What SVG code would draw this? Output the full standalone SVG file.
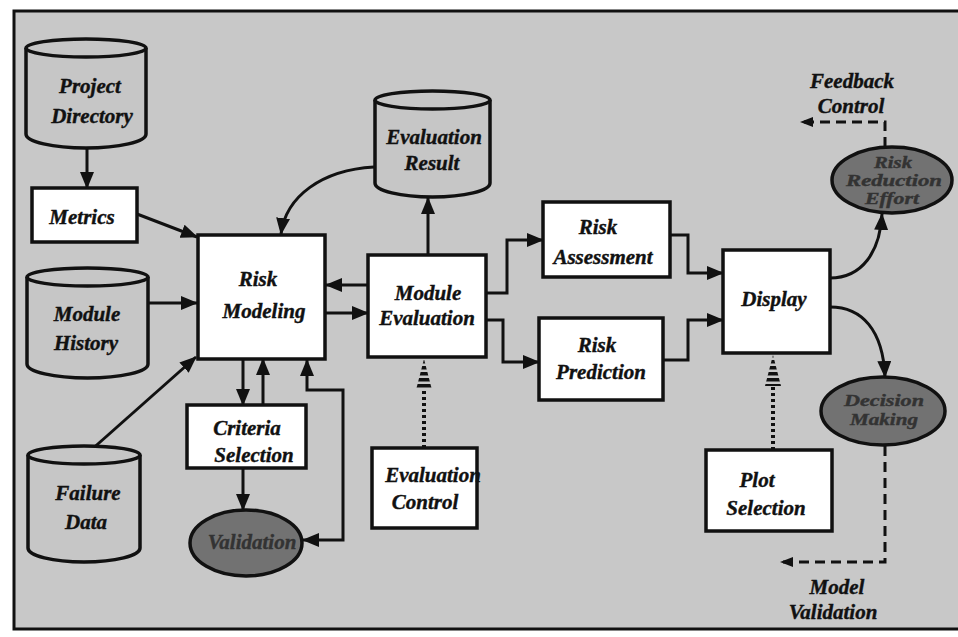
<svg xmlns="http://www.w3.org/2000/svg" width="958" height="637" viewBox="0 0 958 637">
  <style>
    .lbl { font-family: "Liberation Serif", "Times New Roman", serif; font-weight: bold; font-style: italic; font-size: 21px; fill: #111; stroke: #111; stroke-width: 0.4; text-anchor: middle; }
    .dim { fill: #333; stroke: #333; }
    .sm { font-size: 16px; }
    .box { fill: #ffffff; stroke: #111; stroke-width: 3.5; }
    .cyl { fill: #c6c6c6; stroke: #111; stroke-width: 3.5; }
    .oval { fill: #727272; stroke: #111; stroke-width: 3.5; }
    .wire { fill: none; stroke: #111; stroke-width: 3; }
    .dash { fill: none; stroke: #111; stroke-width: 3; stroke-dasharray: 10 6; }
    .dots { fill: none; stroke: #111; stroke-width: 4; stroke-dasharray: 3 3; }
  </style>
  <defs>
    <marker id="arrow" markerUnits="userSpaceOnUse" markerWidth="18" markerHeight="14" refX="16" refY="7" orient="auto-start-reverse">
      <path d="M0,0 L17,7 L0,14 Z" fill="#111"/>
    </marker>
    <marker id="arrowSmall" markerUnits="userSpaceOnUse" markerWidth="14" markerHeight="12" refX="13" refY="6" orient="auto">
      <path d="M0,1 L13,6 L0,11 Z" fill="#111"/>
    </marker>
    <pattern id="stripes" patternUnits="userSpaceOnUse" width="6" height="6">
      <rect x="0" y="0" width="6" height="3.5" fill="#111"/>
    </pattern>
  </defs>

  <!-- page background and frame -->
  <rect x="0" y="0" width="958" height="637" fill="#ffffff"/>
  <rect x="14" y="11" width="952" height="618" fill="#c8c8c8" stroke="#111" stroke-width="3"/>

  <!-- connectors -->
  <g id="connectors">
    <line class="wire" x1="87" y1="148" x2="87" y2="188" marker-end="url(#arrow)"/>
    <line class="wire" x1="137" y1="214" x2="197" y2="237" marker-end="url(#arrow)"/>
    <line class="wire" x1="148" y1="303" x2="197" y2="303" marker-end="url(#arrow)"/>
    <line class="wire" x1="90" y1="451" x2="196" y2="357" marker-end="url(#arrow)"/>
    <path class="wire" d="M374,167 C322,170 286,196 281,234" marker-end="url(#arrow)"/>
    <line class="wire" x1="428" y1="255" x2="428" y2="198" marker-end="url(#arrow)"/>
    <line class="wire" x1="368" y1="285" x2="326" y2="285" marker-end="url(#arrow)"/>
    <line class="wire" x1="326" y1="313" x2="368" y2="313" marker-end="url(#arrow)"/>
    <line class="wire" x1="243" y1="359" x2="243" y2="405" marker-end="url(#arrow)"/>
    <line class="wire" x1="263" y1="405" x2="263" y2="359" marker-end="url(#arrow)"/>
    <line class="wire" x1="243" y1="468" x2="243" y2="510" marker-end="url(#arrow)"/>
    <path class="wire" d="M307,360 L307,390 L343,390 L343,540 L303,540" marker-start="url(#arrow)" marker-end="url(#arrow)"/>
    <path class="wire" d="M486,293 L507,293 L507,240 L543,240" marker-end="url(#arrow)"/>
    <path class="wire" d="M486,320 L503,320 L503,362 L539,362" marker-end="url(#arrow)"/>
    <path class="wire" d="M670,235 L688,235 L688,273 L723,273" marker-end="url(#arrow)"/>
    <path class="wire" d="M663,360 L688,360 L688,320 L723,320" marker-end="url(#arrow)"/>
    <path class="wire" d="M830,278 C862,278 880,252 882,214" marker-end="url(#arrow)"/>
    <path class="wire" d="M830,307 C862,307 883,330 885,377" marker-end="url(#arrow)"/>
    <path class="dash" d="M885,147 L885,122 L800,122" marker-end="url(#arrowSmall)"/>
    <path class="dash" d="M885,446 L885,562 L780,562" marker-end="url(#arrowSmall)"/>
    <!-- dotted control links with striped heads -->
    <line class="dots" x1="424" y1="448" x2="424" y2="390"/>
    <polygon points="424,359 416,390 432,390" fill="url(#stripes)"/>
    <line class="dots" x1="773" y1="450" x2="773" y2="386"/>
    <polygon points="773,355 765,386 781,386" fill="url(#stripes)"/>
  </g>

  <!-- data stores -->
  <g id="project-directory">
    <path class="cyl" d="M26,48 L26,134 A60,14 0 0 0 146,134 L146,48"/>
    <ellipse class="cyl" cx="86" cy="48" rx="60" ry="9"/>
    <text class="lbl" x="90" y="93">Project</text>
    <text class="lbl" x="92" y="123">Directory</text>
  </g>
  <g id="module-history">
    <path class="cyl" d="M27,277 L27,364 A60.5,14 0 0 0 148,364 L148,277"/>
    <ellipse class="cyl" cx="87.5" cy="277" rx="60.5" ry="9"/>
    <text class="lbl" x="87" y="321">Module</text>
    <text class="lbl" x="86" y="350">History</text>
  </g>
  <g id="failure-data">
    <path class="cyl" d="M28,455 L28,548 A56,14 0 0 0 140,548 L140,455"/>
    <ellipse class="cyl" cx="84" cy="455" rx="56" ry="9"/>
    <text class="lbl" x="88" y="500">Failure</text>
    <text class="lbl" x="86" y="529">Data</text>
  </g>
  <g id="evaluation-result">
    <path class="cyl" d="M375,100 L375,183 A57.5,14 0 0 0 490,183 L490,100"/>
    <ellipse class="cyl" cx="432.5" cy="100" rx="57.5" ry="9"/>
    <text class="lbl" x="434" y="144">Evaluation</text>
    <text class="lbl" x="432" y="170">Result</text>
  </g>

  <!-- process boxes -->
  <g id="metrics">
    <rect class="box" x="32" y="188" width="105" height="54"/>
    <text class="lbl" x="82" y="224">Metrics</text>
  </g>
  <g id="risk-modeling">
    <rect class="box" x="198" y="235" width="127" height="124"/>
    <text class="lbl" x="258" y="286">Risk</text>
    <text class="lbl" x="264" y="318">Modeling</text>
  </g>
  <g id="module-evaluation">
    <rect class="box" x="368" y="255" width="118" height="102"/>
    <text class="lbl" x="428" y="300">Module</text>
    <text class="lbl" x="427" y="325">Evaluation</text>
  </g>
  <g id="criteria-selection">
    <rect class="box" x="187" y="405" width="119" height="63"/>
    <text class="lbl" x="247" y="435">Criteria</text>
    <text class="lbl" x="254" y="462">Selection</text>
  </g>
  <g id="evaluation-control">
    <rect class="box" x="372" y="448" width="105" height="80"/>
    <text class="lbl" x="433" y="482">Evaluation</text>
    <text class="lbl" x="425" y="509">Control</text>
  </g>
  <g id="risk-assessment">
    <rect class="box" x="543" y="202" width="127" height="75"/>
    <text class="lbl" x="598" y="234">Risk</text>
    <text class="lbl" x="603" y="264">Assessment</text>
  </g>
  <g id="risk-prediction">
    <rect class="box" x="539" y="318" width="124" height="82"/>
    <text class="lbl" x="597" y="352">Risk</text>
    <text class="lbl" x="601" y="379">Prediction</text>
  </g>
  <g id="display">
    <rect class="box" x="723" y="250" width="107" height="103"/>
    <text class="lbl" x="774" y="306">Display</text>
  </g>
  <g id="plot-selection">
    <rect class="box" x="706" y="450" width="126" height="81"/>
    <text class="lbl" x="757" y="487">Plot</text>
    <text class="lbl" x="766" y="515">Selection</text>
  </g>

  <!-- outcome ovals -->
  <g id="validation">
    <ellipse class="oval" cx="246" cy="543" rx="56" ry="33"/>
    <text class="lbl dim" x="252" y="549">Validation</text>
  </g>
  <g id="risk-reduction-effort">
    <ellipse class="oval" cx="892" cy="180" rx="60" ry="33"/>
    <text class="lbl dim sm" x="893" y="168" textLength="38" lengthAdjust="spacingAndGlyphs">Risk</text>
    <text class="lbl dim sm" x="894" y="186" textLength="96" lengthAdjust="spacingAndGlyphs">Reduction</text>
    <text class="lbl dim sm" x="892" y="204" textLength="54" lengthAdjust="spacingAndGlyphs">Effort</text>
  </g>
  <g id="decision-making">
    <ellipse class="oval" cx="883" cy="411" rx="62" ry="34"/>
    <text class="lbl dim sm" x="884" y="406" textLength="80" lengthAdjust="spacingAndGlyphs">Decision</text>
    <text class="lbl dim sm" x="884" y="425" textLength="68" lengthAdjust="spacingAndGlyphs">Making</text>
  </g>

  <!-- free labels -->
  <g id="feedback-control">
    <text class="lbl" x="852" y="88">Feedback</text>
    <text class="lbl" x="851" y="113">Control</text>
  </g>
  <g id="model-validation">
    <text class="lbl" x="837" y="594">Model</text>
    <text class="lbl" x="833" y="619">Validation</text>
  </g>
</svg>
